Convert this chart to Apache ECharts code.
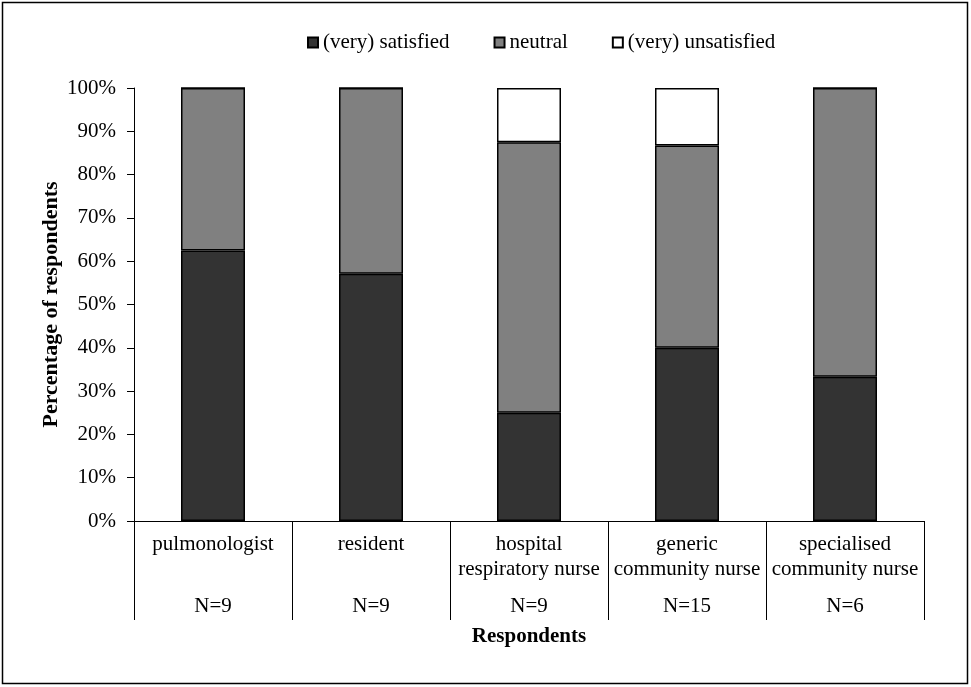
<!DOCTYPE html>
<html><head><meta charset="utf-8">
<script src="https://cdn.jsdelivr.net/npm/echarts@6/dist/echarts.min.js"></script>
<style>html,body{margin:0;padding:0;background:#fff}#c{width:971px;height:687px}</style>
</head><body><div id="c"></div>
<script>
const categories = [["pulmonologist"], ["resident"], ["hospital", "respiratory nurse"], ["generic", "community nurse"], ["specialised", "community nurse"]];
const counts = ["N=9", "N=9", "N=9", "N=15", "N=6"];
const satisfied = [62.5, 57.1, 25.0, 40.0, 33.3];
const neutral = [37.5, 42.9, 62.5, 46.7, 66.7];
const unsatisfied = [0, 0, 12.5, 13.3, 0];
const yTicks = [0, 10, 20, 30, 40, 50, 60, 70, 80, 90, 100];
const FONT = "'Liberation Serif', 'Times New Roman', serif";

const catNames = categories.map(c => c.join(" "));
const chart = echarts.init(document.getElementById('c'), null, {renderer: 'canvas'});
const barStyle = (color) => ({color: color, borderColor: '#000', borderWidth: 1.5});
chart.setOption({
  animation: false,
  backgroundColor: '#fff',
  textStyle: {fontFamily: FONT},
  graphic: [{type: 'rect', shape: {x: 2.5, y: 2.5, width: 965, height: 681}, style: {fill: null, stroke: '#000', lineWidth: 1.5}, silent: true}],
  legend: {
    top: 27, left: 302, itemWidth: 10, itemHeight: 10, itemGap: 44,
    icon: 'rect',
    textStyle: {fontFamily: FONT, fontSize: 21, color: '#000'},
    data: ['(very) satisfied', 'neutral', '(very) unsatisfied']
  },
  grid: {left: 134, right: 47, top: 88, bottom: 166, containLabel: false},
  xAxis: {
    type: 'category', data: catNames,
    axisLine: {lineStyle: {color: '#000', width: 1}},
    axisTick: {show: true, length: 99, lineStyle: {color: '#000'}},
    axisLabel: {
      interval: 0, margin: 11, color: '#000',
      formatter: function (v, i) {
        const c = categories[i];
        const l1 = c[0], l2 = c.length > 1 ? c[1] : ' ';
        return '{a|' + l1 + '}\n{a|' + l2 + '}\n{n|' + counts[i] + '}';
      },
      rich: {
        a: {fontFamily: FONT, fontSize: 21, lineHeight: 25, color: '#000'},
        n: {fontFamily: FONT, fontSize: 21, lineHeight: 49, color: '#000'}
      }
    },
    name: 'Respondents', nameLocation: 'middle', nameGap: 105, nameMoveOverlap: false,
    nameTextStyle: {fontFamily: FONT, fontSize: 21, fontWeight: 'bold', color: '#000'}
  },
  yAxis: {
    type: 'value', min: 0, max: 100, interval: 10,
    axisLine: {show: true, lineStyle: {color: '#000', width: 1}},
    axisTick: {show: true, length: 7, lineStyle: {color: '#000'}},
    splitLine: {show: false},
    axisLabel: {margin: 18, color: '#000', fontFamily: FONT, fontSize: 21,
      formatter: v => yTicks.includes(v) ? v + '%' : ''},
    name: 'Percentage of respondents', nameLocation: 'middle', nameGap: 72, nameMoveOverlap: false,
    nameTextStyle: {fontFamily: FONT, fontSize: 22, fontWeight: 'bold', color: '#000'}
  },
  series: [
    {name: '(very) satisfied', type: 'bar', stack: 's', data: satisfied, barWidth: 64, itemStyle: barStyle('#333333')},
    {name: 'neutral', type: 'bar', stack: 's', data: neutral, barWidth: 64, itemStyle: barStyle('#808080')},
    {name: '(very) unsatisfied', type: 'bar', stack: 's', data: unsatisfied, barWidth: 64, itemStyle: barStyle('#ffffff')}
  ]
});
</script></body></html>
